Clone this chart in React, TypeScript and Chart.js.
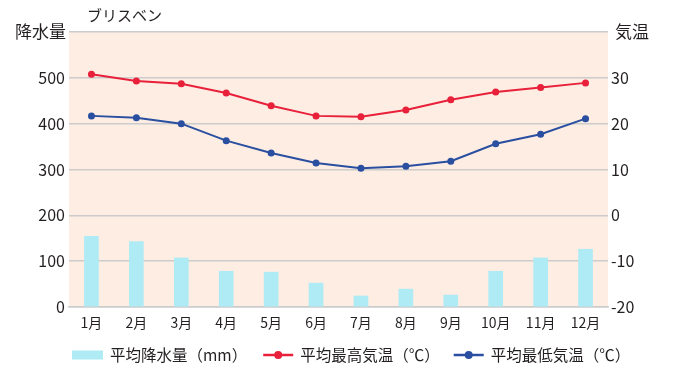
import React, { useEffect, useRef } from "react";
import { Chart, registerables } from "chart.js";

Chart.register(...registerables);

const months = ["1月", "2月", "3月", "4月", "5月", "6月", "7月", "8月", "9月", "10月", "11月", "12月"];
const rainfall = [154, 143, 107, 78, 76, 52, 24, 39, 26, 78, 107, 126];
const maxTemp = [30.8, 29.3, 28.7, 26.7, 23.9, 21.7, 21.5, 23.0, 25.2, 26.9, 27.9, 28.9];
const minTemp = [21.7, 21.3, 20.0, 16.3, 13.6, 11.4, 10.3, 10.7, 11.8, 15.6, 17.7, 21.1];

const title = "ブリスベン";
const leftTitle = "降水量";
const rightTitle = "気温";
const legendRain = "平均降水量（mm）";
const legendMax = "平均最高気温（℃）";
const legendMin = "平均最低気温（℃）";

const FONT = '"Noto Sans CJK JP", "Noto Sans", sans-serif';
const BAR_COLOR = "#AEEBF5";
const RED = "#E8203A";
const BLUE = "#2A4FA0";
const BG = "#FDEDE3";
const GRID = "#CCCCCC";
const TEXT = "#231F20";

const decorPlugin = {
  id: "decor",
  beforeDraw(chart: any) {
    const { ctx, chartArea } = chart;
    ctx.save();
    ctx.fillStyle = BG;
    ctx.fillRect(chartArea.left, chartArea.top, chartArea.right - chartArea.left, chartArea.bottom - chartArea.top);
    ctx.restore();
  },
  afterDraw(chart: any) {
    const { ctx, chartArea } = chart;
    ctx.save();
    ctx.fillStyle = TEXT;
    ctx.textBaseline = "middle";
    // title
    ctx.font = `15px ${FONT}`;
    ctx.textAlign = "left";
    ctx.fillText(title, chartArea.left + 18, 15);
    // axis titles
    ctx.font = `17px ${FONT}`;
    ctx.textAlign = "right";
    ctx.fillText(leftTitle, chartArea.left - 3, chartArea.top);
    ctx.textAlign = "left";
    ctx.fillText(rightTitle, chartArea.right + 7, chartArea.top);

    // legend
    const ly = 355;
    let x = chartArea.left + 3;
    ctx.font = `15.5px ${FONT}`;
    ctx.textAlign = "left";
    ctx.fillStyle = BAR_COLOR;
    ctx.fillRect(x, ly - 4.5, 31, 9);
    x += 31 + 7;
    ctx.fillStyle = TEXT;
    ctx.fillText(legendRain, x, ly);
    x += ctx.measureText(legendRain).width + 16;
    const drawLineItem = (color: string, label: string) => {
      ctx.strokeStyle = color;
      ctx.lineWidth = 2.5;
      ctx.beginPath();
      ctx.moveTo(x, ly);
      ctx.lineTo(x + 30, ly);
      ctx.stroke();
      ctx.fillStyle = color;
      ctx.beginPath();
      ctx.arc(x + 15, ly, 4, 0, Math.PI * 2);
      ctx.fill();
      x += 30 + 7;
      ctx.fillStyle = TEXT;
      ctx.fillText(label, x, ly);
      x += ctx.measureText(label).width + 14;
    };
    drawLineItem(RED, legendMax);
    drawLineItem(BLUE, legendMin);
    ctx.restore();
  },
};

export default function App() {
  const ref = useRef<HTMLCanvasElement | null>(null);
  useEffect(() => {
    if (!ref.current) return;
    const chart = new Chart(ref.current, {
      type: "bar",
      data: {
        labels: months,
        datasets: [
          {
            type: "line",
            label: legendMax,
            data: maxTemp,
            yAxisID: "y1",
            borderColor: RED,
            backgroundColor: RED,
            borderWidth: 2,
            pointRadius: 3.5,
            pointBackgroundColor: RED,
            pointBorderWidth: 0,
            tension: 0,
            order: 1,
          },
          {
            type: "line",
            label: legendMin,
            data: minTemp,
            yAxisID: "y1",
            borderColor: BLUE,
            backgroundColor: BLUE,
            borderWidth: 2,
            pointRadius: 3.5,
            pointBackgroundColor: BLUE,
            pointBorderWidth: 0,
            tension: 0,
            order: 2,
          },
          {
            type: "bar",
            label: legendRain,
            data: rainfall,
            yAxisID: "y",
            backgroundColor: BAR_COLOR,
            barThickness: 14,
            order: 3,
          },
        ] as any,
      },
      options: {
        animation: false,
        responsive: false,
        maintainAspectRatio: false,
        layout: { padding: { top: 32, left: 0, right: 0, bottom: 0 } },
        plugins: { legend: { display: false }, tooltip: { enabled: false }, title: { display: false } },
        scales: {
          x: {
            grid: { display: false, drawTicks: false },
            border: { display: true, color: GRID, width: 1.5 },
            ticks: { color: TEXT, font: { family: FONT, size: 14 }, padding: 7, maxRotation: 0 },
            afterFit(scale: any) {
              scale.height = 76;
            },
          },
          y: {
            position: "left",
            min: 0,
            max: 600,
            grid: { color: GRID, lineWidth: 1.5, drawTicks: false },
            border: { display: false },
            ticks: {
              stepSize: 100,
              padding: 4,
              color: TEXT,
              font: { family: FONT, size: 16 },
              callback: (v: any) => (v === 600 ? "" : String(v)),
            },
            afterFit(scale: any) {
              scale.width = 69;
            },
          },
          y1: {
            position: "right",
            min: -20,
            max: 40,
            grid: { display: false, drawTicks: false },
            border: { display: false },
            ticks: {
              stepSize: 10,
              padding: 3,
              color: TEXT,
              font: { family: FONT, size: 16 },
              callback: (v: any) => (v === 40 ? "" : String(v)),
            },
            afterFit(scale: any) {
              scale.width = 72;
            },
          },
        },
      } as any,
      plugins: [decorPlugin],
    });
    return () => chart.destroy();
  }, []);
  return (
    <div style={{ position: "fixed", left: 0, top: 0, width: 680, height: 383, background: "#fff" }}>
      <canvas ref={ref} width={680} height={383} style={{ width: 680, height: 383, display: "block" }} />
    </div>
  );
}
